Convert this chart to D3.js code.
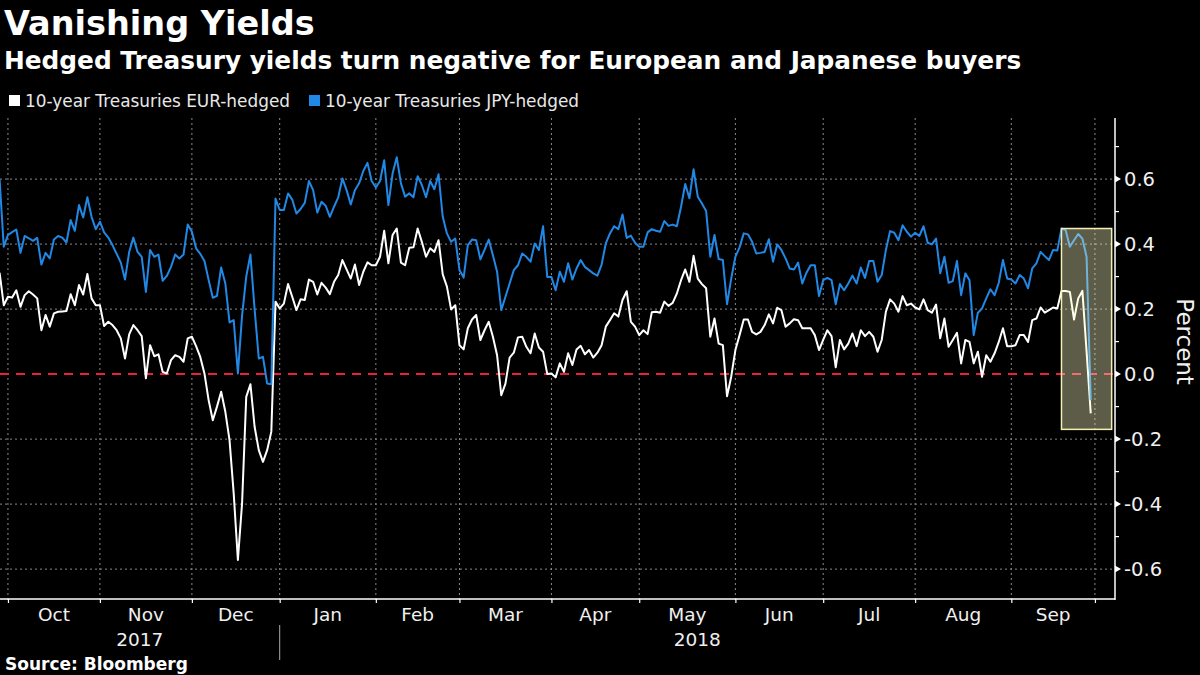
<!DOCTYPE html>
<html>
<head>
<meta charset="utf-8">
<script src="https://cdn.jsdelivr.net/npm/d3@7/dist/d3.min.js"></script>
<style>
  html, body { margin: 0; padding: 0; background: #000; }
  svg { display: block; }
</style>
</head>
<body>
<svg id="chart" width="1200" height="675"></svg>
<script>
// ---------- DATA ----------
const startDate = "2017-09-28";            // first business day of the series
const seriesNames = ["10-year Treasuries EUR-hedged", "10-year Treasuries JPY-hedged"];
const seriesColors = ["#ffffff", "#2188e6"];

// 10-year Treasuries EUR-hedged (percent), one value per business day
const eurHedged = [
0.312,0.212,0.238,0.236,0.258,0.207,0.243,0.255,0.245,0.233,
0.135,0.182,0.146,0.187,0.192,0.193,0.194,0.246,0.212,0.274,
0.245,0.308,0.233,0.212,0.212,0.148,0.161,0.151,0.135,0.110,
0.048,0.122,0.151,0.135,0.117,-0.013,0.089,0.055,0.061,0.007,
0.002,0.043,0.058,0.053,0.038,0.110,0.115,0.086,0.053,0.002,
-0.080,-0.142,-0.100,-0.054,-0.116,-0.203,-0.367,-0.572,-0.398,-0.070,
-0.031,-0.162,-0.234,-0.270,-0.234,-0.177,0.223,0.202,0.217,0.277,
0.238,0.197,0.230,0.228,0.291,0.284,0.245,0.281,0.266,0.246,
0.284,0.305,0.351,0.322,0.294,0.337,0.274,0.315,0.344,0.335,
0.335,0.361,0.441,0.341,0.428,0.448,0.343,0.335,0.389,0.390,
0.448,0.407,0.361,0.387,0.376,0.412,0.307,0.269,0.199,0.212,
0.089,0.076,0.141,0.168,0.182,0.105,0.135,0.161,0.115,0.058,
-0.065,-0.029,0.051,0.066,0.113,0.115,0.084,0.064,0.125,0.082,
0.069,0.000,0.002,-0.010,0.033,0.007,0.064,0.028,0.076,0.087,
0.061,0.074,0.051,0.066,0.089,0.146,0.166,0.187,0.177,0.228,
0.255,0.161,0.146,0.120,0.135,0.123,0.190,0.192,0.189,0.223,
0.210,0.219,0.248,0.289,0.322,0.284,0.364,0.294,0.277,0.264,
0.115,0.171,0.094,0.089,-0.068,-0.008,0.074,0.120,0.168,0.168,
0.130,0.122,0.130,0.151,0.184,0.156,0.204,0.197,0.146,0.156,
0.169,0.166,0.141,0.141,0.141,0.120,0.074,0.105,0.135,0.117,
0.021,0.105,0.076,0.094,0.125,0.086,0.135,0.117,0.130,0.115,
0.069,0.105,0.192,0.230,0.217,0.192,0.240,0.212,0.217,0.205,
0.199,0.230,0.197,0.189,0.214,0.110,0.171,0.084,0.105,0.127,
0.033,0.105,0.099,0.033,0.069,-0.008,0.058,0.038,0.064,0.099,
0.141,0.086,0.086,0.089,0.120,0.120,0.099,0.166,0.171,0.205,
0.189,0.197,0.205,0.202,0.256,0.256,0.253,0.168,0.233,0.256,
0.070,-0.121
];

// 10-year Treasuries JPY-hedged (percent), one value per business day
const jpyHedged = [
0.599,0.392,0.428,0.437,0.445,0.373,0.425,0.418,0.410,0.419,
0.337,0.373,0.356,0.414,0.425,0.420,0.405,0.474,0.441,0.520,
0.482,0.544,0.484,0.446,0.469,0.436,0.420,0.397,0.370,0.343,
0.291,0.376,0.420,0.376,0.361,0.253,0.382,0.361,0.368,0.287,
0.302,0.330,0.368,0.356,0.368,0.460,0.438,0.387,0.370,0.348,
0.290,0.235,0.241,0.328,0.279,0.159,0.166,0.002,0.180,0.300,
0.368,0.200,0.048,0.053,-0.029,-0.031,0.540,0.505,0.505,0.556,
0.537,0.494,0.508,0.527,0.594,0.566,0.497,0.530,0.518,0.484,
0.515,0.544,0.602,0.566,0.522,0.566,0.587,0.625,0.650,0.594,
0.574,0.594,0.658,0.520,0.617,0.667,0.587,0.546,0.556,0.544,
0.609,0.582,0.544,0.594,0.569,0.615,0.484,0.433,0.407,0.417,
0.320,0.297,0.397,0.414,0.412,0.353,0.382,0.414,0.366,0.315,
0.197,0.238,0.279,0.320,0.335,0.371,0.361,0.346,0.402,0.382,
0.455,0.299,0.299,0.258,0.315,0.284,0.341,0.291,0.325,0.351,
0.330,0.320,0.310,0.303,0.337,0.402,0.433,0.455,0.446,0.491,
0.419,0.426,0.404,0.392,0.392,0.436,0.446,0.441,0.438,0.471,
0.456,0.460,0.455,0.515,0.585,0.541,0.630,0.546,0.525,0.502,
0.361,0.428,0.354,0.351,0.215,0.294,0.361,0.390,0.433,0.430,
0.407,0.371,0.373,0.376,0.415,0.346,0.399,0.382,0.356,0.325,
0.322,0.343,0.279,0.312,0.335,0.335,0.240,0.289,0.296,0.289,
0.215,0.277,0.258,0.279,0.303,0.279,0.328,0.296,0.348,0.348,
0.284,0.305,0.382,0.440,0.435,0.412,0.458,0.438,0.423,0.435,
0.425,0.455,0.404,0.399,0.417,0.310,0.361,0.281,0.286,0.348,
0.243,0.310,0.289,0.120,0.189,0.202,0.233,0.261,0.243,0.281,
0.351,0.294,0.291,0.279,0.305,0.294,0.264,0.325,0.341,0.376,
0.363,0.351,0.382,0.380,0.448,0.443,0.392,0.412,0.431,0.417,
0.361,-0.080
];

const yMajorTicks = [0.6, 0.4, 0.2, 0.0, -0.2, -0.4, -0.6];
const yMinorTicks = [0.7, 0.5, 0.3, 0.1, -0.1, -0.3, -0.5];
const monthLabels = ["Oct","Nov","Dec","Jan","Feb","Mar","Apr","May","Jun","Jul","Aug","Sep"];
const yearLabels = [{label: "2017", from: "2017-09-28", to: "2018-01-01"},
                    {label: "2018", from: "2018-01-01", to: "2018-10-08"}];
const highlight = {from: "2018-09-19", to: "2018-10-05", top: 0.448, bottom: -0.170};

// ---------- BUSINESS-DAY CALENDAR ----------
const parse = d3.timeParse("%Y-%m-%d");
const days = [];
{
  let d = parse(startDate);
  while (days.length < 275) {
    const wd = d.getDay();
    if (wd !== 0 && wd !== 6) days.push(new Date(d));
    d = d3.timeDay.offset(d, 1);
  }
}
const idxOf = s => {
  const t = parse(s).getTime();
  return days.findIndex(d => d.getTime() >= t);
};
// first business day of each month (Oct 2017 .. Oct 2018)
const monthStarts = [];
days.forEach((d, i) => {
  if (i > 0 && d.getMonth() !== days[i - 1].getMonth()) monthStarts.push(i);
});
const gridMonths = monthStarts.slice(0, 13);

// ---------- LAYOUT ----------
const svg = d3.select("#chart");
const W = 1200, H = 675;
const plot = {left: 0, right: 1115, top: 118, bottom: 600};
const FONT = "'DejaVu Sans', sans-serif";

const x = d3.scaleLinear().domain([0.1, 266.8]).range([plot.left, plot.right]);
const y = d3.scaleLinear().domain([-0.695, 0.788]).range([plot.bottom, plot.top]);

svg.append("rect").attr("width", W).attr("height", H).attr("fill", "#000");

// ---------- TITLES ----------
svg.append("text").attr("x", 4).attr("y", 35)
  .attr("font-family", FONT).attr("font-weight", "bold").attr("font-size", 33.5)
  .attr("fill", "#fff").text("Vanishing Yields");
svg.append("text").attr("x", 4).attr("y", 69)
  .attr("font-family", FONT).attr("font-weight", "bold").attr("font-size", 24.8)
  .attr("fill", "#fff").text("Hedged Treasury yields turn negative for European and Japanese buyers");

// ---------- LEGEND ----------
const legendX = [9, 309];
seriesNames.forEach((n, i) => {
  svg.append("rect").attr("x", legendX[i]).attr("y", 95).attr("width", 11).attr("height", 11)
    .attr("fill", seriesColors[i]);
  svg.append("text").attr("x", legendX[i] + 16).attr("y", 107)
    .attr("font-family", FONT).attr("font-size", 16.9).attr("fill", "#e8e8e8").text(n);
});

// ---------- GRID ----------
const grid = svg.append("g");
grid.selectAll("line.hg").data(yMajorTicks.filter(v => v !== 0)).join("line")
  .attr("x1", plot.left).attr("x2", plot.right)
  .attr("y1", d => y(d)).attr("y2", d => y(d))
  .attr("stroke", "#8a8a8a").attr("stroke-width", 1).attr("stroke-dasharray", "2,3");
grid.selectAll("line.vg").data(gridMonths).join("line")
  .attr("x1", d => x(d)).attr("x2", d => x(d))
  .attr("y1", plot.top).attr("y2", plot.bottom)
  .attr("stroke", "#8a8a8a").attr("stroke-width", 1).attr("stroke-dasharray", "2,3");

// zero line
svg.append("line").attr("x1", plot.left).attr("x2", plot.right)
  .attr("y1", y(0)).attr("y2", y(0))
  .attr("stroke", "#ee1c3f").attr("stroke-width", 2).attr("stroke-dasharray", "9,7");

// ---------- LINES ----------
const line = d3.line().x((d, i) => x(i)).y(d => y(d));
[eurHedged, jpyHedged].forEach((s, k) => {
  svg.append("path").datum(s).attr("d", line)
    .attr("fill", "none").attr("stroke", seriesColors[k])
    .attr("stroke-width", 2).attr("stroke-linejoin", "round");
});

// ---------- HIGHLIGHT BOX ----------
const hx0 = x(idxOf(highlight.from)), hx1 = x(idxOf(highlight.to));
svg.append("rect")
  .attr("x", hx0).attr("y", y(highlight.top))
  .attr("width", hx1 - hx0).attr("height", y(highlight.bottom) - y(highlight.top))
  .attr("fill", "rgba(255,255,200,0.36)")
  .attr("stroke", "#f6efb2").attr("stroke-width", 1.5);

// ---------- X AXIS ----------
const xAxis = d3.axisBottom(x).tickValues(gridMonths).tickSize(4).tickFormat("");
const gx = svg.append("g").attr("transform", `translate(0,${plot.bottom - 1})`).call(xAxis);
gx.select(".domain").attr("stroke", "#fff").attr("stroke-width", 1.5)
  .attr("d", `M${plot.left},0H${plot.right}`);
gx.selectAll(".tick line").attr("stroke", "#fff").attr("stroke-width", 1.2);

monthLabels.forEach((m, i) => {
  const cx = (x(gridMonths[i]) + x(gridMonths[i + 1])) / 2;
  svg.append("text").attr("x", cx).attr("y", 621).attr("text-anchor", "middle")
    .attr("font-family", FONT).attr("font-size", 18.5).attr("fill", "#f0f0f0").text(m);
});
yearLabels.forEach(yl => {
  const a = Math.max(plot.left, x(idxOf(yl.from)));
  const b = Math.min(plot.right, x(idxOf(yl.to)));
  svg.append("text").attr("x", (a + b) / 2).attr("y", 646).attr("text-anchor", "middle")
    .attr("font-family", FONT).attr("font-size", 18.5).attr("fill", "#f0f0f0").text(yl.label);
});
// year separator
svg.append("line").attr("x1", x(idxOf("2018-01-01"))).attr("x2", x(idxOf("2018-01-01")))
  .attr("y1", 625).attr("y2", 660).attr("stroke", "#aaa").attr("stroke-width", 1);

// ---------- Y AXIS ----------
const yAxis = d3.axisRight(y).tickValues(yMajorTicks).tickSize(0).tickPadding(9)
  .tickFormat(d => d.toFixed(1));
const gy = svg.append("g").attr("transform", `translate(${plot.right},0)`).call(yAxis);
gy.select(".domain").attr("stroke", "#fff").attr("stroke-width", 1.5)
  .attr("d", `M0,${plot.top}V${plot.bottom}`);
gy.selectAll(".tick text").attr("font-family", FONT).attr("font-size", 19.5)
  .attr("fill", "#f0f0f0");
// major tick markers (small arrows) and minor ticks
gy.selectAll("path.arrow").data(yMajorTicks).join("path").attr("class", "arrow")
  .attr("d", d => `M0,${y(d) - 3.5}L6,${y(d)}L0,${y(d) + 3.5}Z`).attr("fill", "#fff");
gy.selectAll("line.minor").data(yMinorTicks).join("line").attr("class", "minor")
  .attr("x1", 0).attr("x2", 4).attr("y1", d => y(d)).attr("y2", d => y(d))
  .attr("stroke", "#fff").attr("stroke-width", 1.2);

svg.append("text")
  .attr("transform", `translate(1177,${(y(0.25) + y(-0.05)) / 2}) rotate(90)`)
  .attr("text-anchor", "middle")
  .attr("font-family", FONT).attr("font-size", 23).attr("fill", "#f0f0f0").text("Percent");

// ---------- SOURCE ----------
svg.append("text").attr("x", 5).attr("y", 670)
  .attr("font-family", FONT).attr("font-weight", "bold").attr("font-size", 17)
  .attr("fill", "#fff").text("Source: Bloomberg");
</script>
</body>
</html>
